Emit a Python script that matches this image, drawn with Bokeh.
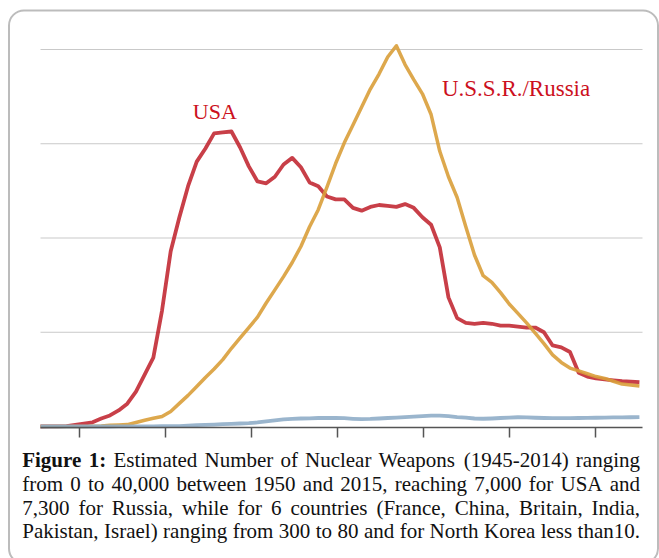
from bokeh.plotting import figure
from bokeh.models import (Range1d, FixedTicker, LinearAxis, BoxAnnotation,
                          Label, ColumnDataSource)
from bokeh.core.properties import value
from bokeh.embed import file_html
from bokeh.resources import INLINE

# ---------------- data ----------------
years = list(range(1945, 2015))
usa = [0, 10, 15, 50, 170, 300, 450, 850, 1170, 1700,
       2420, 3700, 5500, 7300, 12300, 18600, 22200, 25500, 28100, 29500,
       31100, 31200, 31300, 29600, 27600, 26000, 25800, 26500, 27800, 28500,
       27500, 25900, 25500, 24400, 24100, 24100, 23200, 22900, 23300, 23500,
       23400, 23300, 23600, 23200, 22200, 21400, 19000, 13700, 11500, 11000,
       10900, 11000, 10900, 10700, 10700, 10600, 10500, 10500, 10000, 8600,
       8400, 7900, 5700, 5300, 5100, 5000, 4900, 4800, 4750, 4700]
ussr = [0, 0, 0, 0, 0, 5, 25, 50, 120, 150,
        200, 430, 660, 870, 1060, 1600, 2450, 3300, 4240, 5200,
        6100, 7100, 8300, 9400, 10500, 11600, 13100, 14500, 15900, 17400,
        19100, 21200, 23000, 25400, 27900, 30100, 32000, 33900, 35800, 37400,
        39200, 40400, 38400, 36800, 35300, 33100, 29200, 26500, 24300, 21200,
        18200, 16000, 15300, 14200, 13000, 12000, 11000, 9900, 8800, 7600,
        6800, 6200, 5900, 5600, 5300, 5100, 4800, 4500, 4400, 4300]
others = [0, 0, 0, 0, 0, 0, 0, 0, 1, 5,
          10, 15, 20, 22, 25, 30, 50, 100, 150, 170,
          200, 250, 280, 320, 350, 430, 550, 650, 750, 800,
          850, 870, 900, 920, 900, 880, 820, 780, 800, 850,
          900, 950, 1000, 1050, 1100, 1150, 1150, 1100, 1000, 950,
          850, 820, 850, 900, 950, 980, 960, 930, 900, 880,
          880, 890, 900, 920, 930, 950, 960, 970, 980, 990]
tick_years = [1949.5, 1959.4, 1969.3, 1979.2, 1989.1, 1999.0, 2008.9]
grid_values = [10000, 20000, 30000, 40000]
series_labels = ["USA", "U.S.S.R./Russia"]
caption_lines = [
    "Figure 1: Estimated Number of Nuclear Weapons (1945-2014) ranging",
    "from 0 to 40,000 between 1950 and 2015, reaching 7,000 for USA and",
    "7,300 for Russia, while for 6 countries (France, China, Britain, India,",
    "Pakistan, Israel) ranging from 300 to 80 and for North Korea less than10.",
]
bold_words = 2  # "Figure 1:"

# ---------------- layout constants ----------------
W, H = 659, 558
PX_PER_YEAR = 8.68          # horizontal scale of the chart
PX_PER_1000 = 9.425         # vertical scale of the chart
X_LEFT = 40                 # pixel of the first year
Y_ZERO = 426                # pixel of value 0
Y_AXIS = 427                # pixel of the axis line
TXT_FIX = 7                 # baseline correction of the svg text
x_lo, x_hi = years[0], years[0] + (642 - X_LEFT) / PX_PER_YEAR

yr_range = Range1d(years[0] - X_LEFT / PX_PER_YEAR,
                   years[0] + (W - X_LEFT) / PX_PER_YEAR)
val_range = Range1d((Y_ZERO - H) / PX_PER_1000 * 1000,
                    Y_ZERO / PX_PER_1000 * 1000)

p = figure(width=W, height=H, output_backend="svg", toolbar_location=None,
           x_range=Range1d(0, W), y_range=Range1d(H, 0),
           x_axis_location=None, y_axis_location=None,
           min_border=0, min_border_left=0, min_border_right=0,
           min_border_top=0, min_border_bottom=0)
p.extra_x_ranges = {"yr": yr_range}
p.extra_y_ranges = {"val": val_range}
p.outline_line_color = None
p.background_fill_color = "white"
p.border_fill_color = "white"
for g in p.grid:
    g.visible = False

# horizontal grid lines
p.segment(x0=[x_lo] * len(grid_values), x1=[x_hi] * len(grid_values),
          y0=grid_values, y1=grid_values, line_color="#c9c9c9",
          line_width=1.2, x_range_name="yr", y_range_name="val")

# x axis (ticks only, no labels)
axis_val = (Y_ZERO - Y_AXIS) / PX_PER_1000 * 1000
ax = LinearAxis(x_range_name="yr", y_range_name="val",
                fixed_location=axis_val, bounds=(x_lo, x_hi),
                ticker=FixedTicker(ticks=tick_years))
ax.major_tick_in = 0
ax.major_tick_out = 10
ax.minor_tick_line_color = None
ax.axis_line_color = "#555555"
ax.axis_line_width = 1.5
ax.major_tick_line_color = "#555555"
ax.major_tick_line_width = 1.5
ax.major_label_overrides = {t: "" for t in tick_years}
p.add_layout(ax, "below")

# series
p.line(years, usa, line_color="#c22a34", line_width=3.8, line_alpha=0.9,
       line_join="round", x_range_name="yr", y_range_name="val")
p.line(years, ussr, line_color="#d99e3a", line_width=3.5, line_alpha=0.9,
       line_join="round", x_range_name="yr", y_range_name="val")
p.line(years, others, line_color="#8fadc8", line_width=3.8, line_alpha=0.9,
       line_join="round", x_range_name="yr", y_range_name="val")

fix_val = TXT_FIX / PX_PER_1000 * 1000
p.add_layout(Label(x=1962.55, y=32650 + fix_val, text=series_labels[0],
                   x_range_name="yr", y_range_name="val",
                   text_font="Liberation Serif", text_font_size="22px",
                   text_color="#cc1020", text_baseline="alphabetic",
                   text_align="left"))
p.add_layout(Label(x=1991.25, y=35120 + fix_val, text=series_labels[1],
                   x_range_name="yr", y_range_name="val",
                   text_font="Liberation Serif", text_font_size="23px",
                   text_color="#cc1020", text_baseline="alphabetic",
                   text_align="left"))

# rounded frame around the panel
p.add_layout(BoxAnnotation(left=8.5, right=657.5, top=10, bottom=563,
                           fill_alpha=0, line_color="#222222", line_width=2,
                           border_radius=15, level="overlay"))

# ---------------- justified caption ----------------
REG = {' ': 250, '(': 333, ')': 333, ',': 250, '-': 333, '.': 250, '/': 278,
       ':': 278, 'A': 722, 'B': 667, 'C': 667, 'E': 611, 'F': 556, 'I': 333,
       'K': 722, 'N': 722, 'P': 556, 'R': 667, 'S': 556, 'U': 722, 'W': 944,
       'a': 444, 'b': 500, 'c': 444, 'd': 500, 'e': 444, 'f': 333, 'g': 500,
       'h': 500, 'i': 278, 'k': 500, 'l': 278, 'm': 778, 'n': 500, 'o': 500,
       'p': 500, 'r': 333, 's': 389, 't': 278, 'u': 500, 'w': 722, 'y': 500}
BOLD = {'F': 611, 'i': 278, 'g': 500, 'u': 556, 'r': 444, 'e': 444, ':': 333}
FS = 21.0
X0, X1 = 21.7, 639.5
baselines = [466.5 - TXT_FIX, 490.0 - TXT_FIX, 514.0 - TXT_FIX,
             537.5 - TXT_FIX]


def wwidth(word, table):
    return sum(table.get(c, 500) for c in word) / 1000.0 * FS


groups = {"reg": dict(x=[], y=[], text=[]),
          "bold": dict(x=[], y=[], text=[]),
          "last": dict(x=[], y=[], text=[])}
for li, line in enumerate(caption_lines):
    words = line.split(" ")
    isbold = [li == 0 and wi < bold_words for wi in range(len(words))]
    widths = [wwidth(w, BOLD if b else REG) for w, b in zip(words, isbold)]
    gap = (X1 - X0 - sum(widths)) / (len(words) - 1)
    xcur = X0
    for wi, w in enumerate(words):
        if wi == len(words) - 1:
            g, xx = groups["last"], X1
        else:
            g, xx = groups["bold" if isbold[wi] else "reg"], xcur
        g["x"].append(xx)
        g["y"].append(baselines[li])
        g["text"].append(w)
        xcur += widths[wi] + gap

for key, style, align in (("reg", "normal", "left"), ("bold", "bold", "left"),
                          ("last", "normal", "right")):
    p.text(x="x", y="y", text="text", source=ColumnDataSource(groups[key]),
           text_font=value("Liberation Serif"), text_font_size=value("21px"),
           text_font_style=style, text_color="#111111",
           text_baseline="alphabetic", text_align=align)

open("out.html", "w").write(file_html(p, INLINE))
